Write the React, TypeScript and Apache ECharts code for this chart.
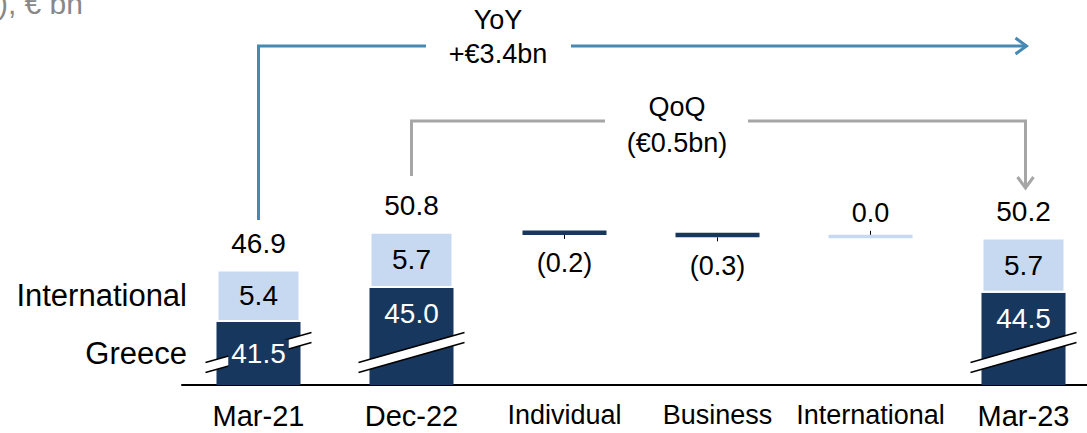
import React, { useEffect, useRef } from "react";
import * as echarts from "echarts";

// ---- data ----
const categories = ["Mar-21", "Dec-22", "Individual", "Business", "International", "Mar-23"];
const dateCategories = ["Mar-21", "Dec-22", "Mar-23"];
const greece = [41.5, 45.0, null, null, null, 44.5];
const international = [5.4, 5.7, null, null, null, 5.7];
const totals = [46.9, 50.8, null, null, null, 50.2];
const deltas = [null, null, -0.2, -0.3, 0.0, null];
const seriesNames = ["Greece", "International"];
const breakValue = 38.35;
const yMin = 35;
const yMax = 72;
const title = "Deposits (Group), € bn";
const yoyText = ["YoY", "+€3.4bn"];
const qoqText = ["QoQ", "(€0.5bn)"];

const DARK = "#17375E";
const LIGHT = "#C6D9F1";
const BLUE = "#4589B4";
const GREY = "#A6A6A6";
const FONT = "Liberation Sans, Arial, sans-serif";

export default function App() {
  const ref = useRef<HTMLDivElement>(null);
  useEffect(() => {
    if (!ref.current) return;
    const chart = echarts.init(ref.current, undefined, { renderer: "svg" });

    // waterfall items
    const wf: any[] = [];
    let running = totals[1] as number;
    deltas.forEach((d, i) => {
      if (d === null) return;
      const start = running;
      const end = running + d;
      wf.push([i, start, end, d]);
      running = end;
    });

    const lightValues = categories.map((_, i) =>
      totals[i] !== null && greece[i] !== null ? +((totals[i] as number) - (greece[i] as number)).toFixed(2) : "-"
    );

    const option: any = {
      animation: false,
      textStyle: { fontFamily: FONT },
      grid: { left: 182, right: 0, top: 26, bottom: 48, containLabel: false },
      xAxis: {
        type: "category",
        data: categories,
        axisTick: { show: false },
        axisLine: { lineStyle: { color: "#000", width: 2 } },
        axisLabel: {
          interval: 0,
          margin: 16,
          formatter: (v: string) => (dateCategories.includes(v) ? `{big|${v}}` : `{small|${v}}`),
          rich: {
            big: { fontSize: 29, color: "#000", fontFamily: FONT },
            small: { fontSize: 27, color: "#000", fontFamily: FONT },
          },
        },
      },
      yAxis: {
        type: "value",
        min: yMin,
        max: yMax,
        show: false,
        splitLine: { show: false },
      },
      series: [
        {
          name: seriesNames[0],
          type: "bar",
          stack: "total",
          barWidth: 84,
          z: 2,
          itemStyle: { color: DARK },
          data: greece.map((v, i) => {
            if (v === null) return "-";
            return {
              value: v,
              label: i === 0 ? { show: false } : { show: true, position: "insideTop", distance: 12 },
            };
          }),
          label: {
            show: true,
            color: "#fff",
            fontSize: 28,
            fontFamily: FONT,
            formatter: (p: any) => (p.value as number).toFixed(1),
          },
        },
        {
          name: seriesNames[1],
          type: "bar",
          stack: "total",
          barWidth: 84,
          z: 2,
          itemStyle: { color: LIGHT, borderColor: "#fff", borderWidth: 2 },
          data: lightValues,
          label: {
            show: true,
            position: "inside",
            color: "#000",
            fontSize: 28,
            fontFamily: FONT,
            formatter: (p: any) => (international[p.dataIndex] as number).toFixed(1),
          },
        },
        {
          name: "break",
          type: "custom",
          z: 3,
          silent: true,
          data: categories
            .map((c, i) => (dateCategories.includes(c) ? [i, breakValue] : null))
            .filter((x) => x !== null),
          encode: { x: 0, y: 1 },
          renderItem: (params: any, api: any) => {
            const p = api.coord([api.value(0), api.value(1)]);
            const hw = 53;
            const dy = 15;
            const gap = 5;
            const x0 = p[0] - hw;
            const x1 = p[0] + hw;
            return {
              type: "group",
              children: [
                {
                  type: "polygon",
                  shape: {
                    points: [
                      [x0, p[1] + dy - gap],
                      [x1, p[1] - dy - gap],
                      [x1, p[1] - dy + gap],
                      [x0, p[1] + dy + gap],
                    ],
                  },
                  style: { fill: "#fff" },
                },
                {
                  type: "line",
                  shape: { x1: x0, y1: p[1] + dy - gap, x2: x1, y2: p[1] - dy - gap },
                  style: { stroke: "#000", lineWidth: 1.5 },
                },
                {
                  type: "line",
                  shape: { x1: x0, y1: p[1] + dy + gap, x2: x1, y2: p[1] - dy + gap },
                  style: { stroke: "#000", lineWidth: 1.5 },
                },
              ],
            };
          },
        },
        {
          name: "waterfall",
          type: "custom",
          z: 3,
          data: wf,
          encode: { x: 0, y: [1, 2] },
          renderItem: (params: any, api: any) => {
            const idx = api.value(0);
            const start = api.value(1);
            const end = api.value(2);
            const d = api.value(3);
            const p0 = api.coord([idx, start]);
            const p1 = api.coord([idx, end]);
            const w = 84;
            const isZero = Math.abs(d) < 1e-9;
            const h = isZero ? 3.5 : Math.max(Math.abs(p1[1] - p0[1]), 4.5);
            const cy = (p0[1] + p1[1]) / 2;
            const top = cy - h / 2;
            const bottom = cy + h / 2;
            const color = categories[idx] === "International" ? LIGHT : DARK;
            const children: any[] = [
              { type: "rect", shape: { x: p0[0] - w / 2, y: top, width: w, height: h }, style: { fill: color } },
            ];
            if (d < 0) {
              children.push({
                type: "line",
                shape: { x1: p0[0], y1: bottom, x2: p0[0], y2: bottom + 4 },
                style: { stroke: "#000", lineWidth: 1 },
              });
              children.push({
                type: "text",
                style: {
                  text: `(${Math.abs(d).toFixed(1)})`,
                  x: p0[0],
                  y: p1[1] + 29,
                  textAlign: "center",
                  textVerticalAlign: "middle",
                  fontSize: 27,
                  fontFamily: FONT,
                  fill: "#000",
                },
              });
            } else {
              children.push({
                type: "line",
                shape: { x1: p0[0], y1: top, x2: p0[0], y2: top - 4 },
                style: { stroke: "#000", lineWidth: 1 },
              });
              children.push({
                type: "text",
                style: {
                  text: d.toFixed(1),
                  x: p0[0],
                  y: top - 22,
                  textAlign: "center",
                  textVerticalAlign: "middle",
                  fontSize: 27,
                  fontFamily: FONT,
                  fill: "#000",
                },
              });
            }
            return { type: "group", children };
          },
        },
        {
          name: "greeceFirstLabel",
          type: "scatter",
          symbolSize: 1,
          z: 5,
          itemStyle: { color: "rgba(0,0,0,0)", opacity: 1 },
          data: [[0, (yMin + (greece[0] as number)) / 2]],
          label: {
            show: true,
            position: "inside",
            color: "#fff",
            backgroundColor: DARK,
            padding: [0, 3],
            fontSize: 28,
            fontFamily: FONT,
            formatter: () => (greece[0] as number).toFixed(1),
          },
        },
        {
          name: "totals",
          type: "scatter",
          symbolSize: 1,
          z: 4,
          itemStyle: { color: "rgba(0,0,0,0)", opacity: 1 },
          data: totals.map((v, i) => (v === null ? null : [i, v])).filter((x) => x !== null),
          label: {
            show: true,
            position: "top",
            distance: 12,
            color: "#000",
            fontSize: 28,
            fontFamily: FONT,
            formatter: (p: any) => (p.value[1] as number).toFixed(1),
          },
        },
        {
          name: "seriesNames",
          type: "scatter",
          symbolSize: 1,
          z: 4,
          itemStyle: { color: "rgba(0,0,0,0)", opacity: 1 },
          data: [
            [0, (yMin + (greece[0] as number)) / 2],
            [0, ((greece[0] as number) + (totals[0] as number)) / 2],
          ],
          label: {
            show: true,
            position: "left",
            distance: 71,
            color: "#000",
            fontSize: 31,
            fontFamily: FONT,
            formatter: (p: any) => seriesNames[p.dataIndex],
          },
        },
      ],
    };
    chart.setOption(option);

    const cx = (c: string) => chart.convertToPixel({ gridIndex: 0 }, [c, 50])[0];
    const c0 = cx("Mar-21");
    const c1 = cx("Dec-22");
    const c5 = cx("Mar-23");

    const txt = (text: string, x: number, y: number, size = 27) => ({
      type: "text",
      x,
      y,
      style: {
        text,
        fontSize: size,
        fontFamily: FONT,
        fill: "#000",
        align: "center",
        verticalAlign: "middle",
      },
    });

    chart.setOption({
      graphic: [
        {
          type: "text",
          x: 83,
          y: 18,
          style: {
            text: title,
            fontSize: 30,
            fontFamily: FONT,
            fill: "#888888",
            align: "right",
            verticalAlign: "bottom",
          },
        },
        // YoY bracket
        {
          type: "polyline",
          shape: { points: [[c0, 220], [c0, 46], [426, 46]] },
          style: { stroke: BLUE, lineWidth: 3, fill: "none" },
        },
        {
          type: "polyline",
          shape: { points: [[571, 46], [c5 + 3, 46]] },
          style: { stroke: BLUE, lineWidth: 3, fill: "none" },
        },
        {
          type: "polyline",
          shape: { points: [[c5 - 8, 38], [c5 + 3, 46], [c5 - 8, 54]] },
          style: { stroke: BLUE, lineWidth: 3, fill: "none" },
        },
        txt(yoyText[0], 498, 20),
        txt(yoyText[1], 498, 54),
        // QoQ bracket
        {
          type: "polyline",
          shape: { points: [[c1, 176], [c1, 121], [605, 121]] },
          style: { stroke: GREY, lineWidth: 3, fill: "none" },
        },
        {
          type: "polyline",
          shape: { points: [[748, 121], [c5 + 2, 121], [c5 + 2, 188]] },
          style: { stroke: GREY, lineWidth: 3, fill: "none" },
        },
        {
          type: "polyline",
          shape: { points: [[c5 - 6, 177], [c5 + 2, 188], [c5 + 10, 177]] },
          style: { stroke: GREY, lineWidth: 3, fill: "none" },
        },
        txt(qoqText[0], 677, 107),
        txt(qoqText[1], 677, 143),
      ],
    });

    return () => chart.dispose();
  }, []);

  return (
    <div
      style={{
        position: "fixed",
        left: 0,
        top: 0,
        width: 1087,
        height: 433,
        overflow: "hidden",
        background: "#fff",
      }}
    >
      <div ref={ref} style={{ width: 1100, height: 433 }} />
    </div>
  );
}
